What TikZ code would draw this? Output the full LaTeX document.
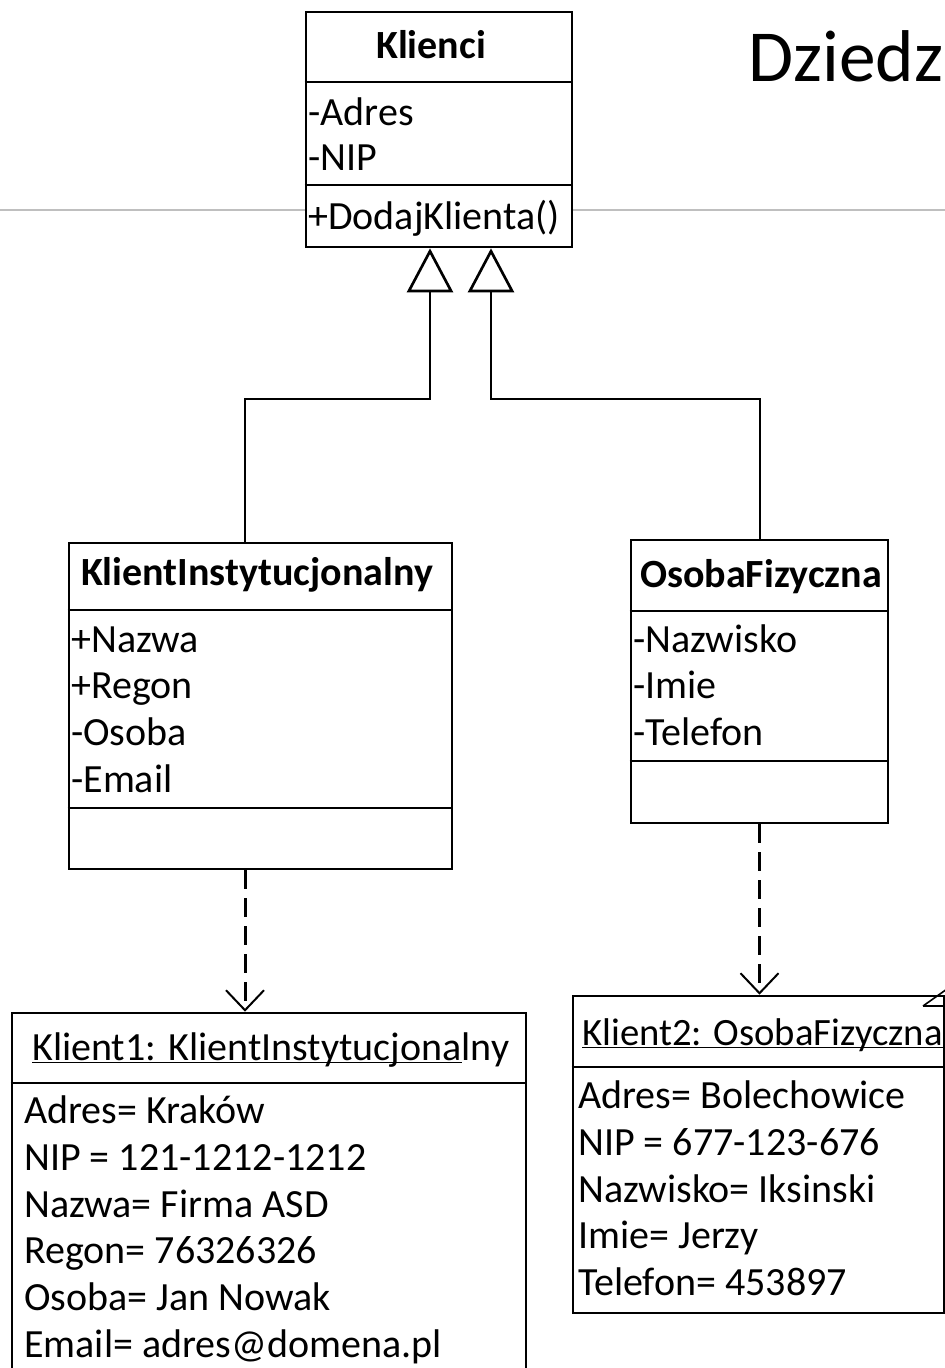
\documentclass[tikz,border=0pt]{standalone}
\usepackage{fontspec}
\setmainfont{Carlito}
\usetikzlibrary{arrows.meta,fit}

\begin{document}
\begin{tikzpicture}[x=0.75pt,y=-0.75pt,
  box/.style={draw, line width=2pt, inner sep=0pt},
  sep/.style={line width=2pt},
  attr/.style={anchor=base west, inner sep=0pt, font=\fontsize{30}{36}\selectfont},
  title/.style={anchor=base, inner sep=0pt, font=\fontsize{30}{36}\selectfont\bfseries},
  gen/.style={line width=1.5pt, -{Triangle[open, length=33pt, width=34.5pt, line width=2pt]}},
  dep/.style={line width=2.25pt, dash pattern=on 14pt off 7pt,
    -{Straight Barb[length=15pt, width=28.5pt, line width=1.5pt]}},
  thin/.style={line width=1.2pt},
]
\useasboundingbox (0,0) rectangle (945,1368);
\clip (0,0) rectangle (945,1368);

% horizontal rule behind the top class
\draw[line width=0.8pt, black!25] (0,210) -- (945,210);

% heading
\node[anchor=base west, inner sep=0pt, font=\fontsize{55}{66}\selectfont] (heading) at (748,81) {Dziedz};

% ---- class Klienci
\node[box, fill=white, fit={(306,12) (572,247)}] (klienci) {};
\draw[sep] (klienci.west |- 0,82) -- (klienci.east |- 0,82);
\draw[sep] (klienci.west |- 0,185) -- (klienci.east |- 0,185);
\node[title] (klienciT) at (431,58) {Klienci};
\node[attr] (kA1) at (308,125) {-Adres};
\node[attr] (kA2) at (308,170) {-NIP};
\node[attr] (kM1) at (308,229) {+DodajKlienta()};

% ---- class KlientInstytucjonalny
\node[box, fit={(69,543) (452,869)}] (ki) {};
\draw[sep] (ki.west |- 0,610) -- (ki.east |- 0,610);
\draw[sep] (ki.west |- 0,808) -- (ki.east |- 0,808);
\node[title] (kiT) at (257,585) {KlientInstytucjonalny};
\node[attr] (kiA1) at (71,652) {+Nazwa};
\node[attr] (kiA2) at (71,698) {+Regon};
\node[attr] (kiA3) at (71,745) {-Osoba};
\node[attr] (kiA4) at (71,792) {-Email};

% ---- class OsobaFizyczna
\node[box, fit={(631,540) (888,823)}] (of) {};
\draw[sep] (of.west |- 0,611) -- (of.east |- 0,611);
\draw[sep] (of.west |- 0,761) -- (of.east |- 0,761);
\node[title] (ofT) at (761,587) {OsobaFizyczna};
\node[attr] (ofA1) at (633,652) {-Nazwisko};
\node[attr] (ofA2) at (633,698) {-Imie};
\node[attr] (ofA3) at (633,745) {-Telefon};

% ---- object Klient1
\node[box, fit={(12,1013) (526,1400)}] (k1) {};
\draw[sep] (k1.west |- 0,1083) -- (k1.east |- 0,1083);
\node[attr] (k1T) at (32,1060) {\underline{\smash{Klient1: KlientInstytucjona}}lny};
\node[attr] (k1A1) at (24,1123) {Adres= Kraków};
\node[attr] (k1A2) at (24,1170) {NIP = 121-1212-1212};
\node[attr] (k1A3) at (24,1217) {Nazwa= Firma ASD};
\node[attr] (k1A4) at (24,1263) {Regon= 76326326};
\node[attr] (k1A5) at (24,1310) {Osoba= Jan Nowak};
\node[attr] (k1A6) at (24,1357) {Email= adres@domena.pl};

% ---- object Klient2
\node[box, fit={(573,996) (944,1313)}] (k2) {};
\draw[sep] (k2.west |- 0,1067) -- (k2.east |- 0,1067);
\node[attr, font=\fontsize{29}{36}\selectfont] (k2T) at (582,1045) {\underline{\smash{Klient2: OsobaFizyczna}}};
\node[attr] (k2A1) at (578,1108) {Adres= Bolechowice};
\node[attr] (k2A2) at (578,1155) {NIP = 677-123-676};
\node[attr] (k2A3) at (578,1202) {Nazwisko= Iksinski};
\node[attr] (k2A4) at (578,1248) {Imie= Jerzy};
\node[attr] (k2A5) at (578,1295) {Telefon= 453897};

% generalisation connectors
\draw[gen] (ki.north -| 245,0) |- (430,399) -- (klienci.south -| 430,0);
\draw[gen] (of.north) |- (491,399) -- (klienci.south -| 491,0);

% instance-of connectors
\draw[dep] (ki.south -| 245,0) -- (k1.north -| 245,0);
\draw[dep] (of.south) -- (k2.north -| of.south);

% arrow tip entering from the right edge
\coordinate (rtip) at (923,1006);
\draw[thin] (rtip) -- (947,989);
\draw[thin] (rtip) -- (947,1006);
\end{tikzpicture}
\end{document}
